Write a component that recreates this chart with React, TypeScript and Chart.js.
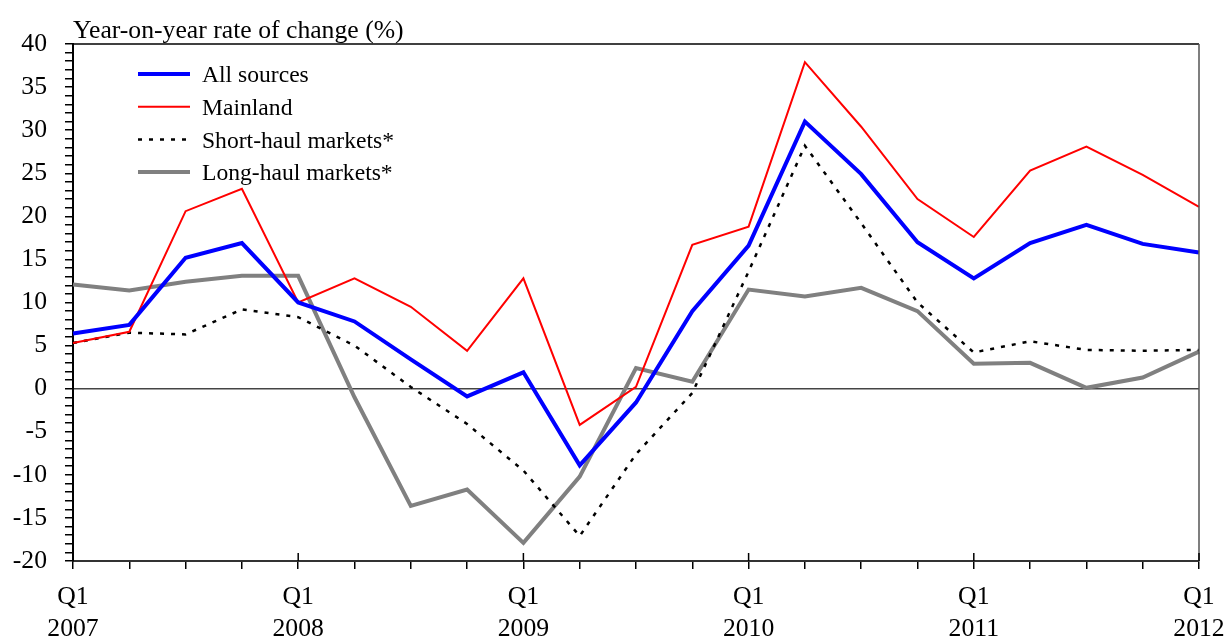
import React, { useEffect, useRef } from 'react';
import { Chart, registerables } from 'chart.js';

Chart.register(...registerables);

const categories = [
  'Q1 2007', 'Q2 2007', 'Q3 2007', 'Q4 2007',
  'Q1 2008', 'Q2 2008', 'Q3 2008', 'Q4 2008',
  'Q1 2009', 'Q2 2009', 'Q3 2009', 'Q4 2009',
  'Q1 2010', 'Q2 2010', 'Q3 2010', 'Q4 2010',
  'Q1 2011', 'Q2 2011', 'Q3 2011', 'Q4 2011',
  'Q1 2012',
];

const allSources = [6.4, 7.4, 15.2, 16.9, 10.0, 7.8, 3.4, -0.9, 1.9, -8.9, -1.6, 9.0, 16.6, 31.0, 24.9, 17.0, 12.8, 16.9, 19.0, 16.8, 15.8];
const mainland = [5.3, 6.6, 20.6, 23.2, 10.0, 12.8, 9.5, 4.4, 12.8, -4.2, 0.2, 16.7, 18.8, 37.9, 30.4, 22.0, 17.6, 25.3, 28.1, 24.8, 21.1];
const shortHaul = [5.3, 6.5, 6.3, 9.2, 8.3, 5.0, 0.2, -4.1, -9.5, -17.1, -7.6, -0.5, 13.6, 28.2, 19.2, 10.0, 4.2, 5.5, 4.5, 4.4, 4.5];
const longHaul = [12.1, 11.4, 12.4, 13.1, 13.1, -1.0, -13.6, -11.7, -17.9, -10.2, 2.4, 0.8, 11.5, 10.7, 11.7, 9.0, 2.9, 3.0, 0.1, 1.3, 4.3];

const seriesLabels = ['All sources', 'Mainland', 'Short-haul markets*', 'Long-haul markets*'];
const yTitle = 'Year-on-year rate of change (%)';

const FONT = "'Liberation Serif', 'DejaVu Serif', serif";

export default function App() {
  const ref = useRef<HTMLCanvasElement>(null);

  useEffect(() => {
    if (!ref.current) return;

    const decor = {
      id: 'decor',
      afterDraw(chart: any) {
        const { ctx, chartArea } = chart;
        const { left, right, top, bottom } = chartArea;
        ctx.save();
        // top frame
        ctx.strokeStyle = '#000';
        ctx.lineWidth = 1.5;
        ctx.beginPath();
        ctx.moveTo(left, top);
        ctx.lineTo(right, top);
        ctx.stroke();
        // right frame
        ctx.strokeStyle = '#555';
        ctx.lineWidth = 1.5;
        ctx.beginPath();
        ctx.moveTo(right, top);
        ctx.lineTo(right, bottom);
        ctx.stroke();
        // Q1 upward ticks
        const xs = chart.scales.x;
        ctx.strokeStyle = '#000';
        ctx.lineWidth = 1.5;
        categories.forEach((c, i) => {
          if (c.startsWith('Q1')) {
            const px = xs.getPixelForValue(i);
            ctx.beginPath();
            ctx.moveTo(px, bottom - 8);
            ctx.lineTo(px, bottom);
            ctx.stroke();
          }
        });
        // axis title
        ctx.fillStyle = '#000';
        ctx.font = `25.7px ${FONT}`;
        ctx.textAlign = 'left';
        ctx.textBaseline = 'alphabetic';
        ctx.fillText(yTitle, left, top - 6);
        // legend
        const lx0 = left + 65;
        const lx1 = left + 117;
        const tx = left + 129;
        ctx.font = `23.6px ${FONT}`;
        chart.data.datasets.forEach((ds: any, i: number) => {
          const y = top + 30 + i * 32.7;
          ctx.strokeStyle = ds.borderColor;
          ctx.lineWidth = ds.borderWidth;
          ctx.setLineDash(ds.borderDash || []);
          ctx.beginPath();
          ctx.moveTo(lx0, y);
          ctx.lineTo(lx1, y);
          ctx.stroke();
          ctx.setLineDash([]);
          ctx.fillStyle = '#000';
          ctx.textBaseline = 'middle';
          ctx.fillText(ds.label, tx, y + 2);
        });
        ctx.restore();
      },
    };

    const chart = new Chart(ref.current, {
      type: 'line',
      data: {
        labels: categories,
        datasets: [
          { label: seriesLabels[0], data: allSources, borderColor: '#0000ff', borderWidth: 4, pointRadius: 0, tension: 0, fill: false },
          { label: seriesLabels[1], data: mainland, borderColor: '#ff0000', borderWidth: 2, pointRadius: 0, tension: 0, fill: false },
          { label: seriesLabels[2], data: shortHaul, borderColor: '#000000', borderWidth: 2.5, borderDash: [4, 7], pointRadius: 0, tension: 0, fill: false },
          { label: seriesLabels[3], data: longHaul, borderColor: '#808080', borderWidth: 4, pointRadius: 0, tension: 0, fill: false },
        ],
      },
      options: {
        responsive: true,
        maintainAspectRatio: false,
        animation: false,
        layout: { padding: { top: 44, right: 26, left: 0, bottom: 0 } },
        plugins: {
          legend: { display: false },
          tooltip: { enabled: false },
          title: { display: false },
        },
        scales: {
          x: {
            type: 'category',
            offset: false,
            border: { color: '#333', width: 2 },
            grid: { drawOnChartArea: false, tickLength: 8, tickColor: '#000', lineWidth: 1.5 },
            ticks: {
              autoSkip: false,
              maxRotation: 0,
              minRotation: 0,
              padding: 12,
              color: '#000',
              font: { family: FONT, size: 25.7, lineHeight: 1.25 },
              callback: (_v: any, i: number) => {
                const c = categories[i];
                return c.startsWith('Q1') ? c.split(' ') : '';
              },
            },
            afterFit: (s: any) => { s.height = 81; s.paddingLeft = 0; s.paddingRight = 0; },
          },
          y: {
            min: -20,
            max: 40,
            border: { color: '#000', width: 2 },
            grid: {
              drawOnChartArea: true,
              color: (ctx: any) => (ctx.tick && ctx.tick.value === 0 ? '#444' : 'rgba(0,0,0,0)'),
              lineWidth: 1.5,
              tickColor: '#000',
              tickLength: 8,
            },
            ticks: {
              stepSize: 1,
              maxTicksLimit: 100,
              autoSkip: false,
              padding: 18,
              color: '#000',
              font: { family: FONT, size: 25.7 },
              callback: (v: any) => (Number(v) % 5 === 0 ? String(v) : ''),
            },
            afterFit: (s: any) => { s.width = 73; s.paddingTop = 0; s.paddingBottom = 0; },
          },
        },
      },
      plugins: [decor],
    } as any);

    return () => chart.destroy();
  }, []);

  return (
    <div style={{ position: 'absolute', left: 0, top: 0, width: 1225, height: 642, background: '#fff' }}>
      <canvas ref={ref} />
    </div>
  );
}
